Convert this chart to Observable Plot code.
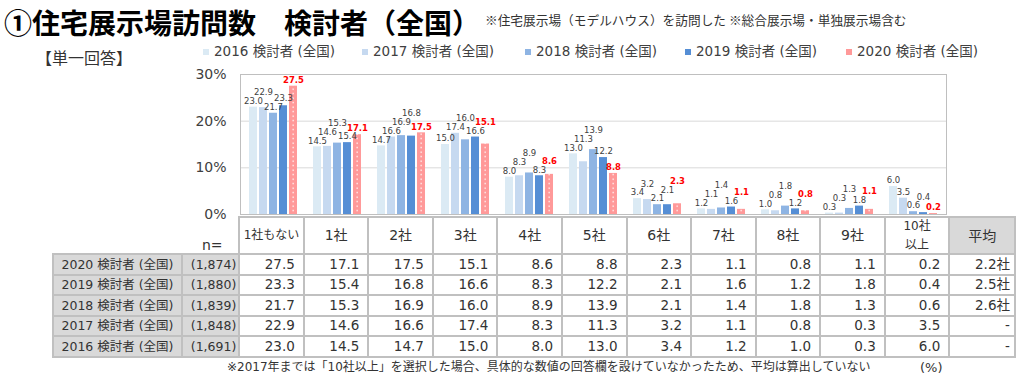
<!DOCTYPE html>
<html><head><meta charset="utf-8">
<script src="https://cdn.jsdelivr.net/npm/d3@7"></script>
<script src="https://cdn.jsdelivr.net/npm/@observablehq/plot@0.6"></script>
<style>
body{margin:0;width:1024px;height:381px;position:relative;overflow:hidden;background:#fff;font-family:"DejaVu Sans","Noto Sans CJK JP",sans-serif;color:#333;}
.abs{position:absolute;white-space:nowrap;line-height:1;}
.cell{position:absolute;box-sizing:border-box;border:2px solid #c0c0c0;display:flex;align-items:center;white-space:nowrap;line-height:1.4;}
.plotbox{position:absolute;left:0;top:60px;}
</style></head><body>
<script>
// ---- data ----
const categories = ["1社もない","1社","2社","3社","4社","5社","6社","7社","8社","9社","10社\n以上"];
const seriesNames = ["2016 検討者 (全国)","2017 検討者 (全国)","2018 検討者 (全国)","2019 検討者 (全国)","2020 検討者 (全国)"];
const v2016 = [23.0,14.5,14.7,15.0,8.0,13.0,3.4,1.2,1.0,0.3,6.0];
const v2017 = [22.9,14.6,16.6,17.4,8.3,11.3,3.2,1.1,0.8,0.3,3.5];
const v2018 = [21.7,15.3,16.9,16.0,8.9,13.9,2.1,1.4,1.8,1.3,0.6];
const v2019 = [23.3,15.4,16.8,16.6,8.3,12.2,2.1,1.6,1.2,1.8,0.4];
const v2020 = [27.5,17.1,17.5,15.1,8.6,8.8,2.3,1.1,0.8,1.1,0.2];
const nCounts = ["(1,691)","(1,848)","(1,839)","(1,880)","(1,874)"];
const averages = ["-","-","2.6社","2.5社","2.2社"];
const yTickValues = [0,10,20,30];
const seriesColors = ["#dbeaf4","#c6d9f0","#8eb4e3","#558ed5","#ff9999"];

const valuesBySeries = [v2016,v2017,v2018,v2019,v2020];
// label anchors: keep adjacent labels within a group vertically apart so they do not collide
const labelGap = 1.9;
const data = categories.flatMap((c,i)=>{
  let prev = null;
  return seriesNames.map((s,j)=>{
    const value = valuesBySeries[j][i];
    let ly = value;
    if (prev !== null && Math.abs(ly - prev) < labelGap) ly = prev + labelGap;
    prev = ly;
    return {cat:c, year:s, j, value, labelY:ly};
  });
});
const last = seriesNames[seriesNames.length-1];

const body = document.body;
function abs(text, left, top, style){
  const d = document.createElement("div");
  d.className = "abs"; d.textContent = text;
  d.style.left = left+"px"; d.style.top = top+"px";
  Object.assign(d.style, style||{});
  body.appendChild(d); return d;
}

// ---- titles ----
abs("①住宅展示場訪問数　検討者（全国）", 4, 8, {fontFamily:'"Noto Sans CJK JP"', fontWeight:"bold", fontSize:"28px", color:"#000"});
abs("※住宅展示場（モデルハウス）を訪問した ※総合展示場・単独展示場含む", 485, 14, {fontFamily:'"Noto Sans CJK JP"', fontSize:"12.7px", color:"#333"});
abs("【単一回答】", 36, 49, {fontFamily:'"Noto Sans CJK JP"', fontSize:"16px", color:"#333"});

// ---- legend ----
const legendX = [203, 362, 525, 685, 846];
seriesNames.forEach((s,j)=>{
  const m = document.createElement("div");
  Object.assign(m.style,{position:"absolute",left:legendX[j]+"px",top:"49px",width:"6px",height:"6px",background:seriesColors[j]});
  body.appendChild(m);
  abs(s, legendX[j]+11, 45, {fontSize:"13.5px", color:"#404040"});
});

// ---- background plot: axis, grid, frame ----
const common = {width:1024, height:170, marginLeft:240, marginRight:78, marginTop:14, marginBottom:16};
const bg = Plot.plot({
  ...common,
  style:{fontSize:"14px", fontFamily:'"DejaVu Sans", sans-serif', color:"#404040", background:"transparent"},
  x:{domain:[0,1], axis:null},
  y:{domain:[0,30], ticks:yTickValues, tickFormat:d=>d+"%", tickSize:0, tickPadding:14, label:null},
  marks:[
    Plot.ruleY([10,20],{stroke:"#d9d9d9"}),
    Plot.frame({stroke:"#bfbfbf"})
  ]
});
const bgBox = document.createElement("div"); bgBox.className="plotbox"; bgBox.appendChild(bg); body.appendChild(bgBox);

// ---- foreground plot: bars and labels ----
const fg = Plot.plot({
  ...common,
  style:{fontFamily:'"DejaVu Sans", sans-serif', background:"transparent"},
  fx:{domain:categories, paddingInner:0, paddingOuter:0, axis:null, label:null},
  x:{domain:seriesNames, paddingInner:0.16, paddingOuter:0.5, axis:null},
  y:{domain:[0,30], axis:null},
  color:{type:"ordinal", domain:seriesNames, range:seriesColors.slice(0,4).concat(["url(#pinkdots)"])},
  marks:[
    Plot.barY(data,{fx:"cat", x:"year", y:"value", fill:"year"}),
    Plot.text(data.filter(d=>d.year!==last),{fx:"cat", x:"year", y:"labelY", text:d=>d.value.toFixed(1), dy:-6, fontSize:8.5, fill:"#404040"}),
    Plot.text(data.filter(d=>d.year===last),{fx:"cat", x:"year", y:"labelY", text:d=>d.value.toFixed(1), dy:-6, fontSize:8.5, fill:"#ff0000", fontWeight:"bold"})
  ]
});
const svg = fg.tagName.toLowerCase()==="svg" ? fg : fg.querySelector("svg");
const ns = "http://www.w3.org/2000/svg";
const defs = document.createElementNS(ns,"defs");
const pat = document.createElementNS(ns,"pattern");
pat.setAttribute("id","pinkdots"); pat.setAttribute("width","5"); pat.setAttribute("height","4.5"); pat.setAttribute("patternUnits","userSpaceOnUse");
const r1 = document.createElementNS(ns,"rect"); r1.setAttribute("width","5"); r1.setAttribute("height","4.5"); r1.setAttribute("fill",seriesColors[4]);
const r2 = document.createElementNS(ns,"rect"); r2.setAttribute("x","1.5"); r2.setAttribute("y","1.5"); r2.setAttribute("width","1.3"); r2.setAttribute("height","1.3"); r2.setAttribute("fill","#ffffff");
pat.appendChild(r1); pat.appendChild(r2); defs.appendChild(pat); svg.insertBefore(defs, svg.firstChild);
const fgBox = document.createElement("div"); fgBox.className="plotbox"; fgBox.appendChild(fg); body.appendChild(fgBox);

// ---- table ----
const tx0 = 239.3, tx1 = 949.3, avgRight = 1015;
const step = (tx1-tx0)/categories.length;
const colLabel = [53, 182], colN = [182, tx0];
const headY = [217, 254];
const rowY = [254, 274.5, 295, 315.5, 336, 356.5];
function cell(x0,x1,y0,y1,text,style){
  const d = document.createElement("div");
  d.className="cell";
  d.style.left=(x0-1)+"px"; d.style.top=(y0-1)+"px";
  d.style.width=(x1-x0+2)+"px"; d.style.height=(y1-y0+2)+"px";
  Object.assign(d.style, style||{});
  if (text.includes("\n")) { d.innerHTML = text.split("\n").join("<br>"); } else d.textContent = text;
  body.appendChild(d); return d;
}
categories.forEach((c,i)=>{
  cell(tx0+i*step, tx0+(i+1)*step, headY[0], headY[1], c, {justifyContent:"center", textAlign:"center", fontFamily:'"DejaVu Sans","Noto Sans CJK JP"', fontSize: c.length>4 ? "12px":"14px", color:"#333", lineHeight: c.includes("\n") ? "19px":"1.4"});
});
cell(tx1, avgRight, headY[0], headY[1], "平均", {justifyContent:"center", background:"#d9d9d9", fontFamily:'"Noto Sans CJK JP"', fontSize:"14px"});
abs("n=", 202, 238, {fontSize:"14px", color:"#333"});

const order = [4,3,2,1,0];
order.forEach((j,r)=>{
  const y0 = rowY[r], y1 = rowY[r+1];
  cell(colLabel[0], colLabel[1], y0, y1, seriesNames[j], {justifyContent:"center", background:"#d9d9d9", fontSize:"12.5px"});
  cell(colN[0], colN[1], y0, y1, nCounts[j], {justifyContent:"flex-end", paddingRight:"2px", background:"#d9d9d9", fontSize:"12.5px"});
  categories.forEach((c,i)=>{
    cell(tx0+i*step, tx0+(i+1)*step, y0, y1, valuesBySeries[j][i].toFixed(1), {justifyContent:"flex-end", paddingRight:"8px", fontSize:"13.5px"});
  });
  cell(tx1, avgRight, y0, y1, averages[j], {justifyContent:"flex-end", paddingRight:"4px", fontSize:"13.5px", fontFamily:'"DejaVu Sans","Noto Sans CJK JP"'});
});

// ---- footnotes ----
abs("※2017年までは「10社以上」を選択した場合、具体的な数値の回答欄を設けていなかったため、平均は算出していない", 227, 361, {fontFamily:'"DejaVu Sans","Noto Sans CJK JP"', fontSize:"12px", color:"#333"});
abs("(%)", 920, 361, {fontSize:"13px", color:"#333"});
</script>
</body></html>
